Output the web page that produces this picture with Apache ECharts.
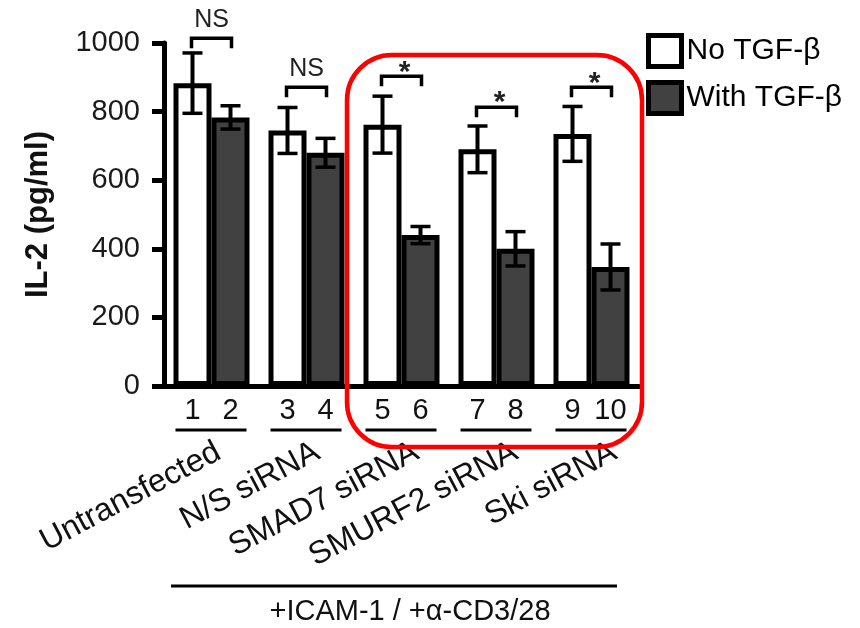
<!DOCTYPE html>
<html>
<head>
<meta charset="utf-8">
<script src="https://cdn.jsdelivr.net/npm/echarts@6/dist/echarts.min.js"></script>
<style>
html, body { margin: 0; padding: 0; background: #fff; }
#chart { width: 860px; height: 628px; }
</style>
</head>
<body>
<div id="chart"></div>
<script>
const groups = ['Untransfected', 'N/S siRNA', 'SMAD7 siRNA', 'SMURF2 siRNA', 'Ski siRNA']
const laneNumbers = ['1', '2', '3', '4', '5', '6', '7', '8', '9', '10']
const noTgf = [883, 745, 762, 690, 735]
const noTgfErr = [88, 67, 83, 68, 80]
const withTgf = [783, 680, 440, 400, 347]
const withTgfErr = [34, 42, 25, 50, 67]
const bracketLevel = [1014, 871, 903, 813, 871]
const bracketText = ['NS', 'NS', '*', '*', '*']
const yTicks = [0, 200, 400, 600, 800, 1000]

const font = 'Liberation Sans, Arial, sans-serif'
const barW = 38

function errorBar(offset) {
  return function(params, api) {
    const i = api.value(0)
    const m = api.value(1)
    const e = api.value(2)
    const top = api.coord([i, m + e])
    const bot = api.coord([i, m - e])
    const x = top[0] + offset
    return {
      type: 'group',
      children: [
        { type: 'line', shape: { x1: x, y1: top[1], x2: x, y2: bot[1] }, style: { stroke: '#000', lineWidth: 4 } },
        { type: 'line', shape: { x1: x - 10, y1: top[1], x2: x + 10, y2: top[1] }, style: { stroke: '#000', lineWidth: 3.5 } },
        { type: 'line', shape: { x1: x - 10, y1: bot[1], x2: x + 10, y2: bot[1] }, style: { stroke: '#000', lineWidth: 3.5 } }
      ]
    }
  }
}

let myChart = echarts.init(document.getElementById('chart'))
let option = {
  animation: false,
  backgroundColor: '#fff',
  grid: [
    { left: 164, right: 221, top: 43, bottom: 242 },
    { left: 169, right: 196, top: 43, bottom: 242 }
  ],
  legend: {
    data: ['No TGF-β', 'With TGF-β'],
    orient: 'vertical',
    left: 646,
    top: 33,
    padding: 0,
    itemWidth: 33,
    itemHeight: 31,
    itemGap: 11,
    icon: 'rect',
    itemStyle: { borderColor: '#000', borderWidth: 5 },
    textStyle: { fontSize: 30, color: '#000', fontFamily: font }
  },
  xAxis: [
    {
      type: 'category',
      gridIndex: 0,
      data: groups,
      axisLine: { lineStyle: { color: '#000', width: 5 } },
      axisTick: { length: 6, lineStyle: { color: '#000', width: 2 } },
      axisLabel: {
        interval: 0,
        margin: 10,
        formatter: function(v, i) {
          return '{n|' + laneNumbers[2 * i] + '}{n|' + laneNumbers[2 * i + 1] + '}'
        },
        rich: {
          n: { width: barW, align: 'center', fontSize: 29, color: '#111', fontFamily: font }
        }
      }
    },
    {
      type: 'category',
      gridIndex: 1,
      data: groups,
      axisLine: { show: false },
      axisTick: { show: false },
      axisLabel: {
        interval: 0,
        rotate: 28,
        margin: 64,
        fontSize: 32,
        color: '#111',
        fontFamily: font
      }
    }
  ],
  yAxis: [
    {
      type: 'value',
      gridIndex: 0,
      min: yTicks[0],
      max: yTicks[yTicks.length - 1],
      interval: yTicks[1] - yTicks[0],
      name: 'IL-2 (pg/ml)',
      nameLocation: 'middle',
      nameGap: 110,
      nameTextStyle: { fontSize: 31, fontWeight: 'bold', color: '#111', fontFamily: font },
      axisLine: { show: true, lineStyle: { color: '#000', width: 5 } },
      axisTick: { show: true, length: 12, lineStyle: { color: '#000', width: 5 } },
      splitLine: { show: false },
      axisLabel: {
        margin: 24,
        fontSize: 29,
        color: '#1a1a1a',
        fontFamily: font,
        formatter: function(v) { return String(v) }
      }
    },
    { type: 'value', gridIndex: 1, min: 0, max: 1000, show: false }
  ],
  series: [
    {
      name: 'No TGF-β',
      type: 'bar',
      data: noTgf,
      barWidth: barW,
      barGap: '0%',
      itemStyle: { color: '#fff', borderColor: '#000', borderWidth: 5 }
    },
    {
      name: 'With TGF-β',
      type: 'bar',
      data: withTgf,
      barWidth: barW,
      barGap: '0%',
      itemStyle: { color: '#414141', borderColor: '#000', borderWidth: 5 }
    },
    {
      type: 'custom',
      z: 5,
      renderItem: errorBar(-barW / 2),
      encode: { x: 0, y: 1 },
      data: noTgf.map((v, i) => [i, v, noTgfErr[i]])
    },
    {
      type: 'custom',
      z: 5,
      renderItem: errorBar(barW / 2),
      encode: { x: 0, y: 1 },
      data: withTgf.map((v, i) => [i, v, withTgfErr[i]])
    },
    {
      // significance brackets
      type: 'custom',
      z: 5,
      encode: { x: 0, y: 1 },
      data: bracketLevel.map((v, i) => [i, v]),
      renderItem: function(params, api) {
        const i = api.value(0)
        const p = api.coord([i, api.value(1)])
        const x1 = p[0] - 20
        const x2 = p[0] + 20
        const y = p[1]
        const star = bracketText[i] === '*'
        return {
          type: 'group',
          children: [
            { type: 'polyline', shape: { points: [[x1, y + 10], [x1, y], [x2, y], [x2, y + 10]] }, style: { stroke: '#000', lineWidth: 3.5, fill: 'none' } },
            { type: 'text', x: p[0] + (star ? 3 : 0), y: star ? y - 4 : y - 18, style: { text: bracketText[i], fontSize: star ? 30 : 25, fontWeight: star ? 'bold' : 'normal', fontFamily: font, fill: '#222', align: 'center', verticalAlign: 'middle' } }
          ]
        }
      }
    },
    {
      // underline under lane numbers
      type: 'custom',
      z: 5,
      encode: { x: 0, y: 1 },
      data: groups.map((g, i) => [i, 0]),
      renderItem: function(params, api) {
        const p = api.coord([api.value(0), 0])
        return { type: 'line', shape: { x1: p[0] - 36, y1: p[1] + 44, x2: p[0] + 35, y2: p[1] + 44 }, style: { stroke: '#000', lineWidth: 3 } }
      }
    }
  ],
  graphic: [
    { type: 'rect', z: 100, shape: { x: 347, y: 55, width: 295, height: 392, r: 45 }, style: { fill: 'none', stroke: '#ff0000', lineWidth: 4.5 } },
    { type: 'line', shape: { x1: 171, y1: 586, x2: 617, y2: 586 }, style: { stroke: '#000', lineWidth: 3 } },
    { type: 'text', x: 410, y: 612, style: { text: '+ICAM-1 / +α-CD3/28', fontSize: 29, fontFamily: font, fill: '#111', align: 'center', verticalAlign: 'middle' } }
  ]
}
myChart.setOption(option)
window.addEventListener('resize', function() {
  myChart.resize()
})
</script>
</body>
</html>
